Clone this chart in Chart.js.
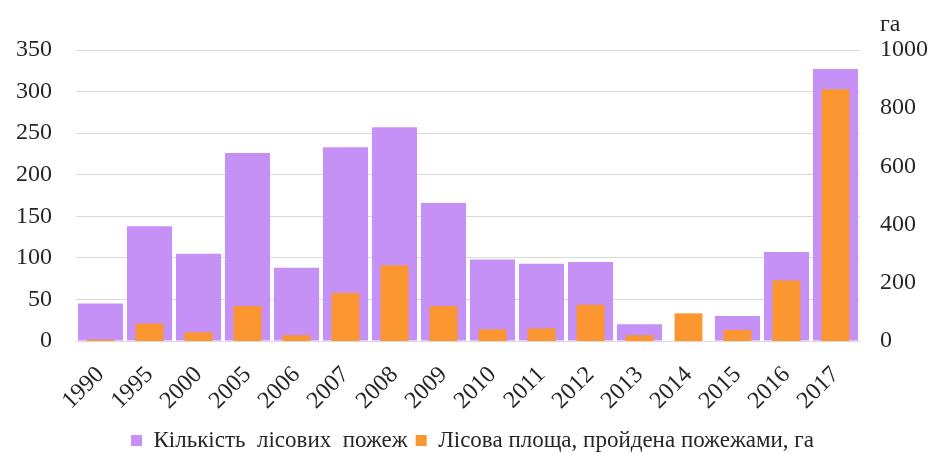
<!DOCTYPE html>
<html>
<head>
<meta charset="utf-8">
<script src="https://cdn.jsdelivr.net/npm/chart.js@4"></script>
<style>
html,body{margin:0;padding:0;background:#fff;}
#wrap{width:937px;height:454px;position:relative;}
</style>
</head>
<body>
<div id="wrap"><canvas id="c"></canvas></div>
<script>
const years = ['1990','1995','2000','2005','2006','2007','2008','2009','2010','2011','2012','2013','2014','2015','2016','2017'];
const fireCount = [45, 138, 105, 226, 88, 233, 257, 166, 98, 93, 95, 20, 0, 30, 107, 327];
const burnedArea = [5, 60, 30, 120, 20, 165, 260, 120, 40, 43, 125, 20, 95, 38, 208, 865];
const leftTicks = [0, 50, 100, 150, 200, 250, 300, 350];
const rightTicks = [0, 200, 400, 600, 800, 1000];
const seriesNames = ['Кількість  лісових  пожеж', 'Лісова площа, пройдена пожежами, га'];
const rightUnit = 'га';

const FONT = '"Liberation Serif", "Times New Roman", "DejaVu Serif", serif';
const TXT = '#262626';

const unitPlugin = {
  id: 'unitLabel',
  afterDraw(chart) {
    const s = chart.scales.y1;
    const ctx = chart.ctx;
    ctx.save();
    ctx.font = '24px ' + FONT;
    ctx.fillStyle = TXT;
    ctx.textAlign = 'left';
    ctx.textBaseline = 'alphabetic';
    ctx.fillText(rightUnit, s.left + 20, 31);
    ctx.restore();
  }
};

new Chart(document.getElementById('c'), {
  type: 'bar',
  data: {
    labels: years,
    datasets: [
      {
        label: seriesNames[0],
        data: fireCount,
        backgroundColor: '#c691f7',
        yAxisID: 'y',
        order: 1,
        grouped: false,
        barPercentage: 0.92,
        categoryPercentage: 1.0
      },
      {
        label: seriesNames[1],
        data: burnedArea,
        backgroundColor: '#fb9630',
        yAxisID: 'y1',
        order: 0,
        grouped: false,
        barPercentage: 0.57,
        categoryPercentage: 1.0
      }
    ]
  },
  options: {
    responsive: true,
    maintainAspectRatio: false,
    animation: false,
    layout: { padding: { top: 50, left: 16, right: 8, bottom: -8 } },
    plugins: {
      tooltip: { enabled: false },
      legend: {
        position: 'bottom',
        labels: {
          boxWidth: 11,
          boxHeight: 11,
          padding: 8,
          color: TXT,
          font: { family: FONT, size: 23 },
          sort: (a, b) => a.datasetIndex - b.datasetIndex
        }
      }
    },
    scales: {
      x: {
        grid: { display: false, drawTicks: false },
        border: { display: false },
        afterFit: (s) => { s.paddingLeft = 0; s.paddingRight = 0; s.height = 80; },
        ticks: {
          color: TXT,
          font: { family: FONT, size: 24 },
          maxRotation: 45,
          minRotation: 45,
          padding: 20,
          autoSkip: false
        }
      },
      y: {
        position: 'left',
        min: 0,
        max: 350,
        afterBuildTicks: (s) => { s.ticks = leftTicks.map(v => ({ value: v })); },
        afterFit: (s) => { s.width = 60; },
        grid: { color: '#d9d9d9', drawTicks: false },
        border: { display: false },
        ticks: {
          color: TXT,
          font: { family: FONT, size: 24 },
          padding: 24,
          callback: (v) => String(v)
        }
      },
      y1: {
        position: 'right',
        min: 0,
        max: 1000,
        afterBuildTicks: (s) => { s.ticks = rightTicks.map(v => ({ value: v })); },
        afterFit: (s) => { s.width = 69; },
        grid: { display: false, drawTicks: false },
        border: { display: false },
        ticks: {
          color: TXT,
          font: { family: FONT, size: 24 },
          padding: 20,
          callback: (v) => String(v)
        }
      }
    }
  },
  plugins: [unitPlugin]
});
</script>
</body>
</html>
